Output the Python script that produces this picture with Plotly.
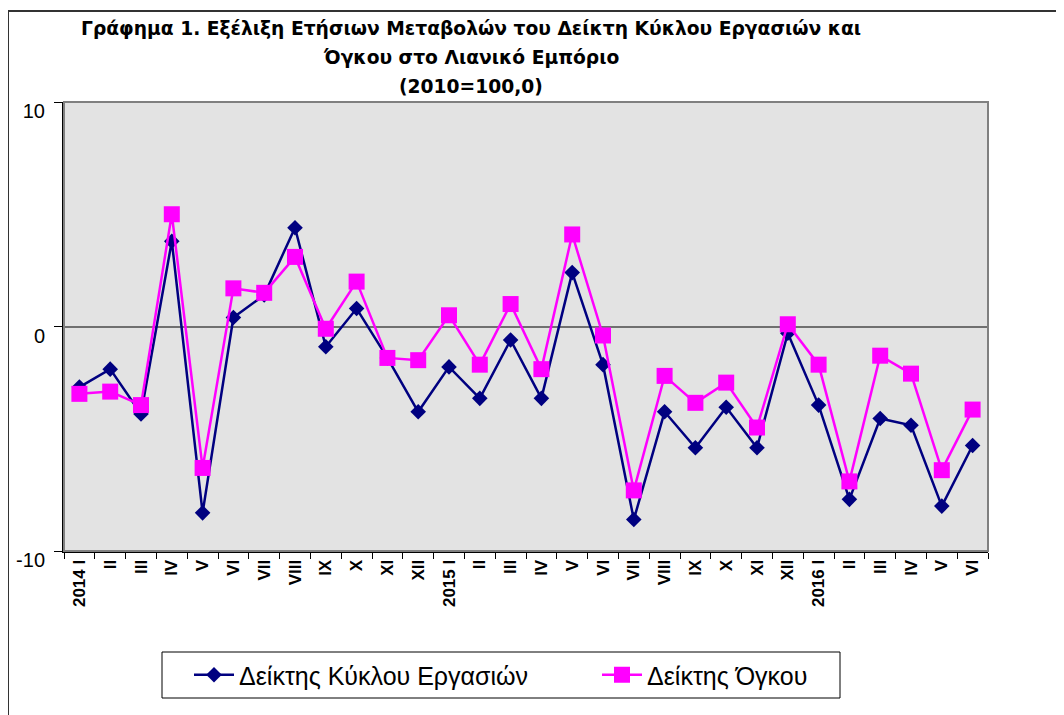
import plotly.graph_objects as go

# catégories : mois 2014 I ... 2016 VI
mois = ["2014 I", "II", "III", "IV", "V", "VI", "VII", "VIII", "IX", "X", "XI", "XII",
        "2015 I", "II", "III", "IV", "V", "VI", "VII", "VIII", "IX", "X", "XI", "XII",
        "2016 I", "II", "III", "IV", "V", "VI"]
pos = list(range(len(mois)))  # position de chaque mois sur l'axe

# Δείκτης Κύκλου Εργασιών (variation annuelle %)
kyklos = [-2.7, -1.9, -3.9, 3.8, -8.3, 0.4, 1.4, 4.4, -0.9, 0.8, -1.4, -3.8,
          -1.8, -3.2, -0.6, -3.2, 2.4, -1.7, -8.6, -3.8, -5.4, -3.6, -5.4, -0.3,
          -3.5, -7.7, -4.1, -4.4, -8.0, -5.3]

# Δείκτης Όγκου
ogkos = [-3.0, -2.9, -3.5, 5.0, -6.3, 1.7, 1.5, 3.1, -0.1, 2.0, -1.4, -1.5,
         0.5, -1.7, 1.0, -1.9, 4.1, -0.4, -7.3, -2.2, -3.4, -2.5, -4.5, 0.1,
         -1.7, -6.9, -1.3, -2.1, -6.4, -3.7]

# graduations de l'axe y (trait d'union comme dans Excel)
y_ticks = [-10, 0, 10]
y_labels = ["-10", "0", "10"]

titre = ["Γράφημα 1. Εξέλιξη Ετήσιων Μεταβολών του Δείκτη Κύκλου Εργασιών και",
         "Όγκου στο Λιανικό Εμπόριο",
         "(2010=100,0)"]

OFF = 8  # marge du body html
W, H = 1064 - OFF, 715 - OFF
L, R, T, B = 64, 988, 102, 551  # bords du plot area (pixels de la page)

def px_x(x):
    return (x - L) / (R - L)

def px_y(y):
    return (B - y) / (B - T)

fig = go.Figure()
fig.add_trace(go.Scatter(x=pos, y=kyklos, mode="lines+markers", name="Δείκτης Κύκλου Εργασιών",
                         line=dict(color="#000080", width=2.5),
                         marker=dict(symbol="diamond", size=12, color="#000080"),
                         legend="legend"))
fig.add_trace(go.Scatter(x=pos, y=ogkos, mode="lines+markers", name="Δείκτης Όγκου",
                         line=dict(color="#FF00FF", width=2.5),
                         marker=dict(symbol="square", size=16, color="#FF00FF"),
                         legend="legend2"))

# cadre extérieur (style Excel)
fig.add_shape(type="rect", xref="paper", yref="paper", x0=px_x(8), x1=px_x(1100), y0=px_y(760), y1=px_y(11),
              line=dict(color="#333333", width=2), fillcolor="rgba(0,0,0,0)", layer="below")
# bord du plot area
fig.add_shape(type="rect", xref="paper", yref="paper", x0=0, x1=1, y0=0, y1=1,
              line=dict(color="#808080", width=2), fillcolor="rgba(0,0,0,0)")
# cadre de la légende
fig.add_shape(type="rect", xref="paper", yref="paper", x0=px_x(162), x1=px_x(840), y0=px_y(698), y1=px_y(652),
              line=dict(color="black", width=1), fillcolor="white")

# titre sur trois lignes
for txt, yc in zip(titre, [28, 57, 87]):
    fig.add_annotation(text=txt, xref="paper", yref="paper", x=px_x(471), y=px_y(yc),
                       xanchor="center", yanchor="middle", showarrow=False,
                       font=dict(size=18.7, family="DejaVu Sans", color="black", weight="bold"))

leg = dict(orientation="h", yanchor="middle", y=px_y(675), bgcolor="rgba(0,0,0,0)",
           borderwidth=0, font=dict(size=25, family="Liberation Sans, Arial", color="black"),
           itemwidth=40)

fig.update_layout(
    width=W, height=H,
    margin=dict(l=L - OFF, r=W - (R - OFF), t=T - OFF, b=H - (B - OFF)),
    paper_bgcolor="white", plot_bgcolor="#E3E3E3",
    font=dict(family="Liberation Sans, Arial", color="black"),
    showlegend=True,
    legend=dict(leg, x=px_x(189), xanchor="left"),
    legend2=dict(leg, x=px_x(597), xanchor="left"),
)
fig.update_xaxes(range=[-0.5, len(mois) - 0.5], tickmode="array", tickvals=pos, ticktext=mois,
                 tickangle=-90, showline=True, linecolor="black", linewidth=2, ticks="",
                 minor=dict(ticks="outside", tick0=-0.5, dtick=1, ticklen=6, tickcolor="black", showgrid=False),
                 tickfont=dict(size=17, family="Liberation Sans, Arial", weight="bold"),
                 showgrid=False, zeroline=False, automargin=False)
fig.update_yaxes(range=[-10, 10], tickmode="array", tickvals=y_ticks, ticktext=y_labels,
                 showline=True, linecolor="black", linewidth=2,
                 ticks="outside", ticklen=8, tickcolor="black", tickfont=dict(size=20),
                 ticklabelstandoff=5, ticklabelshift=9,
                 showgrid=True, gridcolor="#707070", gridwidth=1.5, zeroline=False, automargin=False)

fig.write_html("out.html")
